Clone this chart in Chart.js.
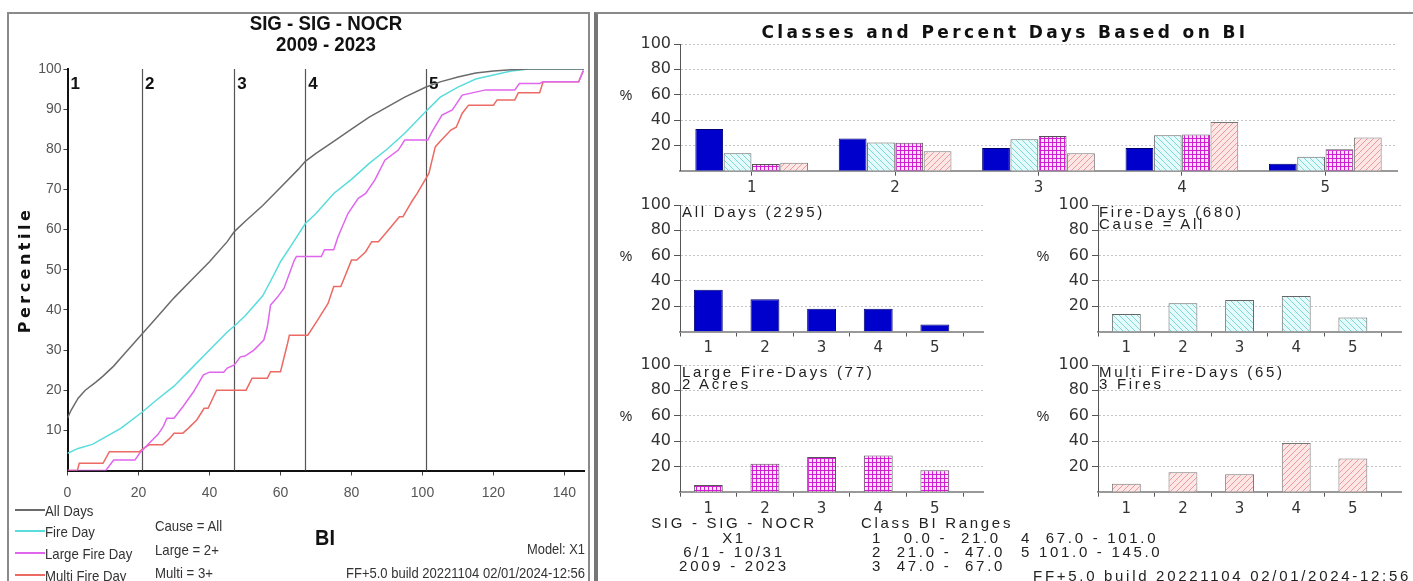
<!DOCTYPE html>
<html>
<head>
<meta charset="utf-8">
<script src="https://cdn.jsdelivr.net/npm/chart.js@4.4.1/dist/chart.umd.min.js"></script>
<style>
  body { margin: 0; width: 1413px; height: 581px; overflow: hidden; background: #fff; position: relative;
         font-family: "Liberation Sans", Arial, sans-serif; }
  canvas { position: absolute; }
  .t { position: absolute; white-space: pre; line-height: 1; color: #222; }
  .c { transform: translate(-50%, -50%) scaleX(var(--sx, 1)); transform-origin: center center; }
  .l { transform: translate(0, -50%) scaleX(var(--sx, 1)); transform-origin: left center; }
  .r { transform: translate(-100%, -50%) scaleX(var(--sx, 1)); transform-origin: right center; }
  .leg { font-size: 15px; color: #333; --sx: 0.88; }
  .wide { font-size: 15px; letter-spacing: 2.7px; color: #222; }
  #leftBox { position: absolute; left: 7px; top: 12px; width: 583px; height: 600px; border: 2px solid #8a8a8a; box-sizing: border-box; }
  #rightBox { position: absolute; left: 594px; top: 12px; width: 830px; height: 600px; border: 2px solid #8a8a8a; border-left: 4px solid #777; box-sizing: border-box; }
  .sw { position: absolute; height: 2px; width: 30px; left: 15px; }
</style>
</head>
<body>
<div id="leftBox"></div>
<div id="rightBox"></div>

<canvas id="cdf" width="582" height="568" style="left:8px;top:13px"></canvas>
<canvas id="classes" width="810" height="175" style="left:600px;top:30px"></canvas>
<canvas id="allDays" width="400" height="170" style="left:600px;top:190px"></canvas>
<canvas id="fireDays" width="395" height="170" style="left:1018px;top:190px"></canvas>
<canvas id="largeDays" width="400" height="170" style="left:600px;top:350px"></canvas>
<canvas id="multiDays" width="395" height="170" style="left:1018px;top:350px"></canvas>

<!-- panel izquierdo -->
<div class="t c" style="left:326px;top:22px;font-size:21px;font-weight:bold;color:#111;--sx:0.89">SIG - SIG - NOCR</div>
<div class="t c" style="left:326px;top:43px;font-size:21px;font-weight:bold;color:#111;--sx:0.89">2009 - 2023</div>
<div class="t c" style="left:25px;top:270px;font-family:'DejaVu Sans',sans-serif;font-size:16px;font-weight:bold;letter-spacing:3.5px;color:#111;transform:translate(-50%,-50%) rotate(-90deg)">Percentile</div>

<div class="sw" style="top:509px;background:#6b6b6b"></div>
<div class="sw" style="top:530px;background:#59dcdc"></div>
<div class="sw" style="top:552px;background:#e066ee"></div>
<div class="sw" style="top:574px;background:#ec6a63"></div>
<div class="t l leg" style="left:45px;top:510px">All Days</div>
<div class="t l leg" style="left:45px;top:531px">Fire Day</div>
<div class="t l leg" style="left:45px;top:553px">Large Fire Day</div>
<div class="t l leg" style="left:45px;top:575px">Multi Fire Day</div>

<div class="t l leg" style="left:155px;top:525px">Cause = All</div>
<div class="t l leg" style="left:155px;top:549px">Large = 2+</div>
<div class="t l leg" style="left:155px;top:572px">Multi = 3+</div>

<div class="t c" style="left:325px;top:538px;font-size:22px;font-weight:bold;color:#111;--sx:0.9">BI</div>
<div class="t r leg" style="left:585px;top:549px;font-size:14px;--sx:0.92">Model: X1</div>
<div class="t r leg" style="left:585px;top:573px;font-size:14px;--sx:0.93">FF+5.0 build 20221104 02/01/2024-12:56</div>

<!-- panel derecho -->
<div class="t c" style="left:1005px;top:32px;font-family:'DejaVu Sans',sans-serif;font-size:17px;font-weight:bold;letter-spacing:3.4px;color:#111">Classes and Percent Days Based on BI</div>

<div class="t c" style="left:626px;top:95px;font-size:14px">%</div>
<div class="t c" style="left:626px;top:256px;font-size:14px">%</div>
<div class="t c" style="left:1043px;top:256px;font-size:14px">%</div>
<div class="t c" style="left:626px;top:416px;font-size:14px">%</div>
<div class="t c" style="left:1043px;top:416px;font-size:14px">%</div>

<div class="t l wide" style="left:682px;top:211px">All Days (2295)</div>
<div class="t l wide" style="left:1099px;top:211px">Fire-Days (680)</div>
<div class="t l wide" style="left:1099px;top:223px">Cause = All</div>
<div class="t l wide" style="left:682px;top:371px">Large Fire-Days (77)</div>
<div class="t l wide" style="left:682px;top:383px">2 Acres</div>
<div class="t l wide" style="left:1099px;top:371px">Multi Fire-Days (65)</div>
<div class="t l wide" style="left:1099px;top:383px">3 Fires</div>

<div class="t c wide" style="left:734px;top:522px">SIG - SIG - NOCR</div>
<div class="t c wide" style="left:734px;top:537px">X1</div>
<div class="t c wide" style="left:734px;top:551px">6/1 - 10/31</div>
<div class="t c wide" style="left:734px;top:565px">2009 - 2023</div>
<div class="t c wide" style="left:937px;top:522px">Class BI Ranges</div>
<div class="t l wide" style="left:872px;top:537px">1   0.0 -  21.0</div>
<div class="t l wide" style="left:872px;top:551px">2  21.0 -  47.0</div>
<div class="t l wide" style="left:872px;top:565px">3  47.0 -  67.0</div>
<div class="t l wide" style="left:1021px;top:537px">4  67.0 - 101.0</div>
<div class="t l wide" style="left:1021px;top:551px">5 101.0 - 145.0</div>
<div class="t r wide" style="left:1411px;top:575px">FF+5.0 build 20221104 02/01/2024-12:56</div>

<script>
// ---- datos ----
const classNums = [1, 2, 3, 4, 5];
const classBreaks = [21, 47, 67, 101];          // limites de clase (BI)
const classLabelAt = [0, 21, 47, 67, 101];       // donde va el numero de clase

// curvas acumuladas (BI, percentil)
const allDaysBI  = [0, 1, 3, 5, 8, 10, 13, 15, 18, 21, 25, 30, 35, 40, 45, 47, 50, 55, 60, 65, 67, 70, 75, 80, 85, 90, 95, 101, 105, 110, 115, 120, 125, 130, 145.5];
const allDaysPct = [13, 15, 18, 20, 22, 23.5, 26, 28, 31, 34, 38, 43, 47.5, 52, 57, 59.5, 62, 66, 70.5, 75, 77, 79, 82, 85, 88, 90.5, 93, 95.5, 96.8, 98, 99, 99.5, 99.8, 100, 100];

const fireDayBI  = [0, 3, 7, 10, 15, 21, 25, 30, 35, 40, 45, 47, 50, 55, 58, 60, 63, 67, 70, 75, 80, 85, 90, 95, 101, 105, 110, 115, 120, 125, 130, 145.5];
const fireDayPct = [4.3, 5.5, 6.5, 8, 10.5, 14.5, 17.5, 21, 25.5, 30, 34.5, 36, 38.5, 43.5, 48.5, 52, 56, 61.5, 64, 69, 72.5, 76.5, 80, 84, 89.5, 93, 95.5, 97.5, 98.5, 99.5, 100, 100];

const largeBI  = [0, 10.8, 13, 19, 20.3, 23, 25.5, 27, 28, 30, 32.6, 35.5, 38.3, 40, 44, 45, 47, 48.7, 50, 52.5, 55.3, 56.3, 57.2, 59, 61, 63.9, 64.5, 71.5, 72.4, 75, 76.2, 79, 81.9, 84, 86.6, 89.4, 93.2, 95, 101.5, 102.7, 105.5, 108.4, 111.2, 117.8, 126, 127.3, 133, 134, 144, 145.3];
const largePct = [0, 0, 2.6, 2.6, 4.3, 6.8, 9, 11, 13, 13, 16, 19.6, 23.8, 24.5, 24.5, 25.5, 26.3, 28.3, 28.5, 30, 32.5, 35.8, 41.2, 43, 45.4, 52.4, 53.3, 53.3, 55, 55, 58.2, 64, 67.8, 69, 72.4, 77.3, 79.8, 82.3, 82.3, 84.4, 88.5, 89.8, 93.5, 94.8, 94.8, 96.4, 96.4, 96.8, 96.8, 99.7];

const multiBI  = [0, 2.8, 3.3, 10, 11.8, 20.3, 21.5, 23, 26.8, 28.8, 30, 32.5, 34, 36.4, 38.5, 39.6, 42, 50.3, 52, 56.3, 57.2, 60, 62, 62.5, 67.7, 70.5, 73.4, 75, 77, 80, 81.5, 84, 85.7, 87.6, 90.4, 93.5, 94.5, 97, 98.5, 101.8, 103.6, 105, 108, 109.5, 111.2, 113, 120, 121, 126, 127, 133, 134, 144, 145.3];
const multiPct = [0, 0, 1.8, 1.8, 4.7, 4.7, 5.6, 6.4, 6.4, 8, 9.3, 9.3, 10.5, 12.6, 15.5, 15.5, 20, 20, 23, 23, 24.6, 24.6, 31.7, 33.7, 33.7, 37.5, 41.6, 45.8, 45.8, 52.4, 52.4, 54.5, 57, 57, 59.9, 63.2, 63.2, 67, 69, 74, 80.6, 82, 84.8, 85.5, 89, 91, 91, 92.3, 92.3, 94.1, 94.1, 96.8, 96.8, 99.5];

// porcentaje de dias por clase
const pctAllDays   = [33, 25.5, 18, 18, 5.5];
const pctFireDays  = [13.8, 22.3, 24.9, 28, 11];
const pctLargeFire = [5.2, 22.1, 27.3, 28.6, 16.9];
const pctMultiFire = [6.2, 15.4, 13.8, 38.5, 26.2];

// ---- estilos ----
const SANS = '"Liberation Sans", Arial, sans-serif';
const WIDE = '"DejaVu Sans", sans-serif';

function pts(xs, ys) { return xs.map((x, i) => ({ x: x, y: ys[i] })); }

// tramas para las barras
function hatch(bg, fg, kind) {
  const s = kind === 'grid' ? 4 : 6;
  const c = document.createElement('canvas');
  c.width = s; c.height = s;
  const g = c.getContext('2d');
  g.fillStyle = bg; g.fillRect(0, 0, s, s);
  g.strokeStyle = fg; g.lineWidth = 1;
  g.beginPath();
  if (kind === 'grid') {
    g.moveTo(0.5, 0); g.lineTo(0.5, s);
    g.moveTo(0, 0.5); g.lineTo(s, 0.5);
  } else if (kind === 'back') {
    g.moveTo(0, 0); g.lineTo(s, s);
    g.moveTo(-1, s - 1); g.lineTo(1, s + 1);
    g.moveTo(s - 1, -1); g.lineTo(s + 1, 1);
  } else {
    g.moveTo(0, s); g.lineTo(s, 0);
    g.moveTo(-1, 1); g.lineTo(1, -1);
    g.moveTo(s - 1, s + 1); g.lineTo(s + 1, s - 1);
  }
  g.stroke();
  return g.createPattern(c, 'repeat');
}

const fillAll = '#0000cc';
const fillFire = hatch('#e4fbfb', '#7fd6d6', 'back');
const fillLarge = hatch('#fbe6fb', '#d21cd2', 'grid');
const fillMulti = hatch('#fde6e6', '#ee9a9a', 'fwd');

// lineas verticales de clase
const classLinesPlugin = {
  id: 'classLines',
  beforeDatasetsDraw(chart) {
    const ctx = chart.ctx, a = chart.chartArea, x = chart.scales.x;
    ctx.save();
    ctx.strokeStyle = '#555';
    ctx.lineWidth = 1.2;
    classBreaks.forEach(v => {
      const px = Math.round(x.getPixelForValue(v)) + 0.5;
      ctx.beginPath(); ctx.moveTo(px, a.top); ctx.lineTo(px, a.bottom); ctx.stroke();
    });
    ctx.fillStyle = '#111';
    ctx.font = 'bold 17px ' + SANS;
    ctx.textBaseline = 'middle';
    classLabelAt.forEach((v, i) => {
      ctx.fillText(String(classNums[i]), x.getPixelForValue(v) + 3, a.top + 15);
    });
    ctx.restore();
  }
};

new Chart(document.getElementById('cdf'), {
  type: 'line',
  data: {
    datasets: [
      { label: 'All Days', data: pts(allDaysBI, allDaysPct), borderColor: '#6b6b6b' },
      { label: 'Fire Day', data: pts(fireDayBI, fireDayPct), borderColor: '#59dcdc' },
      { label: 'Large Fire Day', data: pts(largeBI, largePct), borderColor: '#e066ee' },
      { label: 'Multi Fire Day', data: pts(multiBI, multiPct), borderColor: '#ec6a63' }
    ]
  },
  options: {
    responsive: false,
    animation: false,
    elements: { point: { radius: 0 }, line: { borderWidth: 1.5, tension: 0 } },
    layout: { padding: { top: 56, right: 6, bottom: 70.5, left: 0 } },
    plugins: { legend: { display: false }, tooltip: { enabled: false } },
    scales: {
      x: {
        type: 'linear', min: 0, max: 145.5,
        ticks: { stepSize: 20, includeBounds: false, padding: 9, color: '#555', font: { family: SANS, size: 14 } },
        afterBuildTicks: ax => { ax.ticks = ax.ticks.filter(t => t.value % 20 === 0); },
        afterFit: ax => { ax.height = 40; },
        grid: { drawOnChartArea: false, tickLength: 5, color: '#444' },
        border: { color: '#111', width: 2 }
      },
      y: {
        min: 0, max: 100,
        ticks: { stepSize: 10, padding: 2, color: '#555', font: { family: SANS, size: 14 } },
        afterBuildTicks: ax => { ax.ticks = ax.ticks.filter(t => t.value > 0); },
        afterFit: ax => { ax.width = 59.5; },
        grid: { drawOnChartArea: false, tickLength: 4, color: '#444' },
        border: { color: '#111', width: 2 }
      }
    }
  },
  plugins: [classLinesPlugin]
});

// ---- barras ----
const yTickFont = { family: WIDE, size: 16 };
const xTickFont = { family: WIDE, size: 15 };

function yAxis(width) {
  return {
    min: 0, max: 100,
    ticks: { stepSize: 20, padding: 3, color: '#333', font: yTickFont },
    afterBuildTicks: ax => { ax.ticks = ax.ticks.filter(t => t.value > 0); },
    afterFit: ax => { ax.width = width; },
    grid: { color: '#c4c4c4', tickLength: 6, tickColor: '#555' },
    border: { color: '#555', width: 1, dash: [2, 2] }
  };
}

new Chart(document.getElementById('classes'), {
  type: 'bar',
  data: {
    labels: classNums.map(String),
    datasets: [
      { data: pctAllDays, backgroundColor: fillAll, borderColor: '#000070', borderWidth: 1 },
      { data: pctFireDays, backgroundColor: fillFire, borderColor: '#666', borderWidth: 1 },
      { data: pctLargeFire, backgroundColor: fillLarge, borderColor: '#555', borderWidth: 1 },
      { data: pctMultiFire, backgroundColor: fillMulti, borderColor: '#777', borderWidth: 1 }
    ]
  },
  options: {
    responsive: false,
    animation: false,
    layout: { padding: { top: 14, right: 13, bottom: 6.3, left: 0 } },
    plugins: { legend: { display: false }, tooltip: { enabled: false } },
    datasets: { bar: { categoryPercentage: 0.79, barPercentage: 0.98 } },
    scales: {
      x: {
        ticks: { padding: 3, color: '#333', font: xTickFont },
        afterFit: ax => { ax.height = 28; },
        grid: { drawOnChartArea: false, offset: false, tickLength: 5, color: '#555' },
        border: { color: '#999', width: 2 }
      },
      y: yAxis(80)
    }
  }
});

function smallBars(id, values, fill, border, padRight, padBottom) {
  new Chart(document.getElementById(id), {
    type: 'bar',
    data: {
      datasets: [{ data: values.map((v, i) => ({ x: classNums[i], y: v })), backgroundColor: fill, borderColor: border, borderWidth: 1 }]
    },
    options: {
      responsive: false,
      animation: false,
      layout: { padding: { top: 15, right: padRight, bottom: padBottom, left: 0 } },
      plugins: { legend: { display: false }, tooltip: { enabled: false } },
      datasets: { bar: { categoryPercentage: 1, barPercentage: 0.51 } },
      scales: {
        x: {
          type: 'linear', min: 0.5, max: 5.85, offset: false,
          ticks: { padding: 3, color: '#333', font: xTickFont },
          afterBuildTicks: ax => { ax.ticks = classNums.map(v => ({ value: v })); },
          afterFit: ax => { ax.height = 28; },
          grid: { drawOnChartArea: false, tickLength: 5, color: '#555' },
          border: { color: '#999', width: 2 }
        },
        y: yAxis(80)
      }
    }
  });
}

smallBars('allDays', pctAllDays, fillAll, '#000070', 17, 0.5);
smallBars('fireDays', pctFireDays, fillFire, '#666', 12, 0.5);
smallBars('largeDays', pctLargeFire, fillLarge, '#555', 17, 0.3);
smallBars('multiDays', pctMultiFire, fillMulti, '#777', 12, 0.3);
</script>
</body>
</html>
